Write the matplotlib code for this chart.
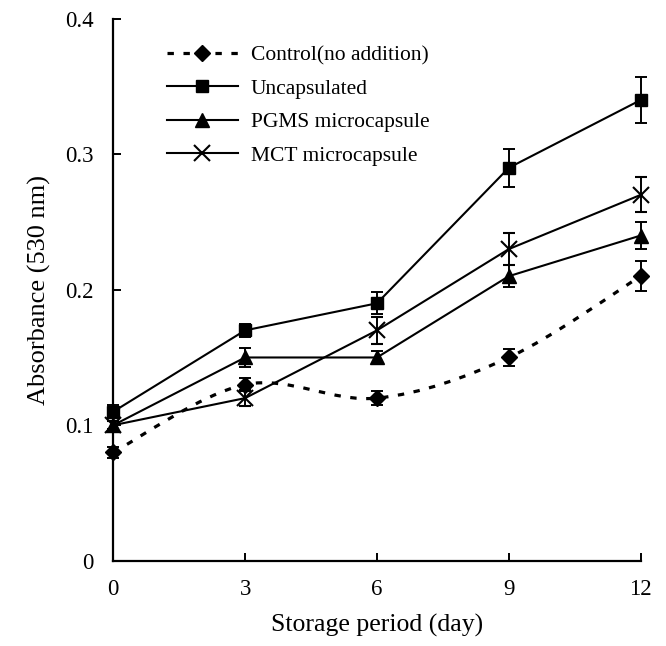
import numpy as np
import matplotlib
matplotlib.use("Agg")
import matplotlib.pyplot as plt
from matplotlib.path import Path
from matplotlib.patches import PathPatch
from matplotlib.lines import Line2D

# ---- DATA ----
days = [0, 3, 6, 9, 12]
control = [0.08, 0.13, 0.12, 0.15, 0.21]
control_err = [0.004, 0.005, 0.005, 0.006, 0.011]
uncap = [0.11, 0.17, 0.19, 0.29, 0.34]
uncap_err = [0.005, 0.005, 0.008, 0.014, 0.017]
pgms = [0.10, 0.15, 0.15, 0.21, 0.24]
pgms_err = [0.003, 0.007, 0.005, 0.008, 0.010]
mct = [0.10, 0.12, 0.17, 0.23, 0.27]
mct_err = [0.003, 0.006, 0.010, 0.012, 0.013]

labels = ["Control(no addition)", "Uncapsulated", "PGMS microcapsule", "MCT microcapsule"]

plt.rcParams["font.family"] = ["Liberation Serif", "DejaVu Serif"]


def smooth_path(x, y):
    # bezier through the points (catmull-rom style, like a spreadsheet "smoothed line")
    pts = np.column_stack([x, y]).astype(float)
    verts = [pts[0]]
    codes = [Path.MOVETO]
    n = len(pts)
    for i in range(n - 1):
        p0 = pts[i - 1] if i > 0 else pts[i]
        p1 = pts[i]
        p2 = pts[i + 1]
        p3 = pts[i + 2] if i + 2 < n else pts[i + 1]
        c1 = p1 + (p2 - p0) / 6.0
        c2 = p2 - (p3 - p1) / 6.0
        verts += [c1, c2, p2]
        codes += [Path.CURVE4] * 3
    return Path(verts, codes)


fig = plt.figure(figsize=(6.66, 6.46), dpi=100)
ax = fig.add_axes([0.170, 0.132, 0.792, 0.839])

lw = 1.5
dash = (0, (2.0, 3.0))
eb = dict(capsize=4.5, elinewidth=1.4, capthick=1.4, clip_on=False)

# control: smoothed dashed line
patch = PathPatch(smooth_path(days, control), facecolor="none", edgecolor="black",
                  lw=2.3, linestyle=dash)
ax.add_patch(patch)
c = ax.errorbar(days, control, yerr=control_err, fmt="D", color="black", ms=8.5, **eb)
u = ax.errorbar(days, uncap, yerr=uncap_err, fmt="-s", color="black", ms=9, lw=lw, **eb)
p = ax.errorbar(days, pgms, yerr=pgms_err, fmt="-^", color="black", ms=10, lw=lw, **eb)
m = ax.errorbar(days, mct, yerr=mct_err, fmt="-x", color="black", ms=11, mew=1.5, lw=lw, **eb)
for cont in (c, u, p, m):
    for art in cont.get_children():
        art.set_clip_on(False)

ax.set_xlim(0, 12)
ax.set_ylim(0, 0.4)
ax.set_xticks([0, 3, 6, 9, 12])
ax.set_yticks([0, 0.1, 0.2, 0.3, 0.4])
ax.set_yticklabels(["0", "0.1", "0.2", "0.3", "0.4"])
ax.tick_params(direction="in", length=6, width=1.4, labelsize=16.5)
ax.tick_params(axis="x", pad=13)
ax.tick_params(axis="y", pad=14)
for s in ["top", "right"]:
    ax.spines[s].set_visible(False)
for s in ["left", "bottom"]:
    ax.spines[s].set_linewidth(1.6)

ax.set_xlabel("Storage period (day)", fontsize=18.5, labelpad=10)
ax.set_ylabel("Absorbance (530 nm)", fontsize=19, labelpad=10)

handles = [
    Line2D([], [], color="black", lw=2.3, linestyle=dash, marker="D", ms=8.5),
    Line2D([], [], color="black", lw=lw, marker="s", ms=9),
    Line2D([], [], color="black", lw=lw, marker="^", ms=10),
    Line2D([], [], color="black", lw=lw, marker="x", ms=11, mew=1.5),
]
ax.legend(handles, labels, loc="upper left", bbox_to_anchor=(0.085, 0.967), frameon=False,
          fontsize=15.5, handlelength=3.3, labelspacing=0.62, handletextpad=0.6,
          borderaxespad=0)

fig.savefig("out.png", dpi=100)
